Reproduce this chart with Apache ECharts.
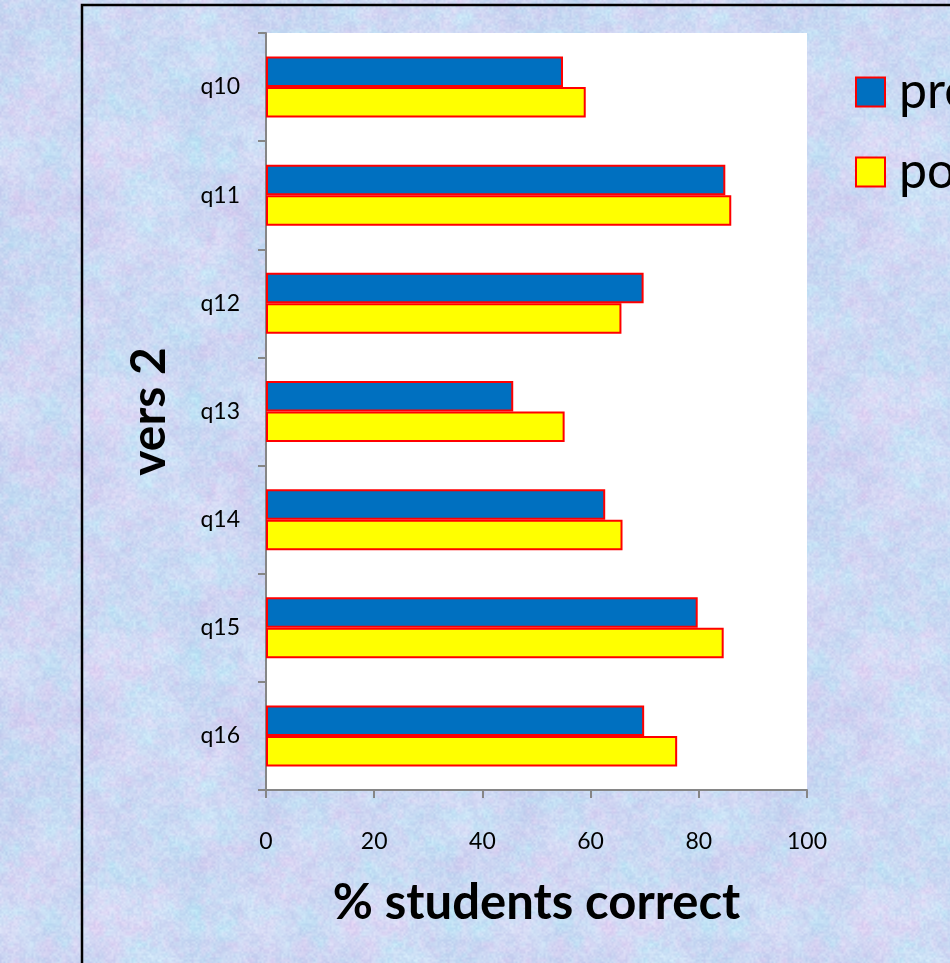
<!DOCTYPE html>
<html>
<head>
<meta charset="utf-8">
<script src="https://cdn.jsdelivr.net/npm/echarts@6/dist/echarts.min.js"></script>
<style>
  html, body { margin: 0; padding: 0; }
  #chart { width: 950px; height: 963px; }
</style>
</head>
<body>
<div id="chart"></div>
<script>
// Question labels, top to bottom
const questions = ['q10', 'q11', 'q12', 'q13', 'q14', 'q15', 'q16'];
// % of students answering correctly
const preValues  = [54.9, 84.9, 69.8, 45.7, 62.7, 79.8, 69.9];
const postValues = [59.1, 86.0, 65.7, 55.2, 65.9, 84.6, 76.0];
const seriesNames = ['pre', 'post'];
const xTicks = [0, 20, 40, 60, 80, 100];

// Soft pastel paper texture, built from smooth value noise on a tiling canvas
function makeTexture(size) {
  const c = document.createElement('canvas');
  c.width = size; c.height = size;
  const ctx = c.getContext('2d');
  const img = ctx.createImageData(size, size);
  function hash(x, y, s) {
    let h = Math.imul(x, 374761393) ^ Math.imul(y, 668265263) ^ Math.imul(s, 1442695041);
    h = Math.imul(h ^ (h >>> 13), 1274126177);
    h ^= h >>> 16;
    return (h >>> 0) / 4294967295;
  }
  function noise(x, y, cells, seed) {
    const fx = x / size * cells, fy = y / size * cells;
    const x0 = Math.floor(fx), y0 = Math.floor(fy);
    const tx = fx - x0, ty = fy - y0;
    const sx = tx * tx * (3 - 2 * tx), sy = ty * ty * (3 - 2 * ty);
    const w = (v) => ((v % cells) + cells) % cells;
    const a = hash(w(x0), w(y0), seed), b = hash(w(x0 + 1), w(y0), seed);
    const cc = hash(w(x0), w(y0 + 1), seed), d = hash(w(x0 + 1), w(y0 + 1), seed);
    return (a + (b - a) * sx) * (1 - sy) + (cc + (d - cc) * sx) * sy;
  }
  function fbm(x, y, seed) {
    return 0.35 * noise(x, y, 5, seed) + 0.35 * noise(x, y, 16, seed + 7) +
           0.3 * noise(x, y, 48, seed + 13);
  }
  for (let y = 0; y < size; y++) {
    for (let x = 0; x < size; x++) {
      const pink = fbm(x, y, 1);
      const cyan = fbm(x, y, 2);
      const dark = fbm(x, y, 3);
      const grain = noise(x, y, 128, 4) - 0.5;
      let r = 204, g = 217, b = 243;
      r += (pink - 0.5) * 34 - (cyan - 0.5) * 20;
      g += (cyan - 0.5) * 22 - (pink - 0.5) * 14;
      b += (cyan - 0.5) * 6;
      const dk = (dark - 0.5) * 22 + grain * 16;
      r += dk; g += dk; b += dk * 0.45;
      const i = (y * size + x) * 4;
      img.data[i] = Math.max(0, Math.min(255, r));
      img.data[i + 1] = Math.max(0, Math.min(255, g));
      img.data[i + 2] = Math.max(0, Math.min(255, b));
      img.data[i + 3] = 255;
    }
  }
  ctx.putImageData(img, 0, 0);
  return c;
}

const font = 'Lato, "Liberation Sans", sans-serif';
const barBorder = { borderColor: '#FF0000', borderWidth: 2 };
const axisGray = '#868686';

const chart = echarts.init(document.getElementById('chart'), null, { renderer: 'canvas' });
chart.setOption({
  backgroundColor: { image: makeTexture(256), repeat: 'repeat' },
  animation: false,
  textStyle: { fontFamily: font },
  graphic: [{
    type: 'rect',
    z: 0,
    shape: { x: 82, y: 5, width: 1000, height: 1000 },
    style: { fill: 'none', stroke: '#000', lineWidth: 2.5 }
  }],
  legend: {
    orient: 'vertical',
    left: 855,
    top: 66,
    padding: 0,
    itemWidth: 29,
    itemHeight: 29,
    itemGap: 28,
    icon: 'rect',
    data: seriesNames,
    itemStyle: { borderColor: '#FF0000', borderWidth: 2 },
    textStyle: { fontFamily: font, fontSize: 50, lineHeight: 52, color: '#000', padding: [0, 0, 0, 9] }
  },
  grid: {
    left: 266, top: 33, right: 143, bottom: 173,
    show: true, backgroundColor: '#FFFFFF', borderWidth: 0
  },
  xAxis: {
    type: 'value',
    min: 0, max: 100, interval: 20,
    name: '% students correct',
    nameLocation: 'middle',
    nameGap: 89,
    nameTextStyle: { fontFamily: font, fontSize: 49, fontWeight: 'bold', color: '#000' },
    axisLine: { show: true, lineStyle: { color: axisGray, width: 2 } },
    axisTick: { show: true, length: 8, lineStyle: { color: axisGray, width: 2 } },
    axisLabel: {
      margin: 40, fontSize: 23, color: '#000', fontFamily: font,
      formatter: (v) => xTicks.indexOf(v) >= 0 ? String(v) : ''
    },
    splitLine: { show: false }
  },
  yAxis: {
    type: 'category',
    data: questions,
    inverse: true,
    name: 'vers 2',
    nameLocation: 'middle',
    nameRotate: 90,
    nameGap: 92,
    nameTextStyle: { fontFamily: font, fontSize: 48, fontWeight: 'bold', color: '#000' },
    axisLine: { show: true, lineStyle: { color: axisGray, width: 2 } },
    axisTick: { show: true, length: 8, lineStyle: { color: axisGray, width: 2 } },
    axisLabel: { margin: 26, fontSize: 23, color: '#000', fontFamily: font },
    splitLine: { show: false }
  },
  series: [
    {
      name: seriesNames[0], type: 'bar', data: preValues,
      barWidth: 30.5, barGap: '0%',
      itemStyle: Object.assign({ color: '#0070C0' }, barBorder)
    },
    {
      name: seriesNames[1], type: 'bar', data: postValues,
      barWidth: 30.5, barGap: '0%',
      itemStyle: Object.assign({ color: '#FFFF00' }, barBorder)
    }
  ]
});
</script>
</body>
</html>
